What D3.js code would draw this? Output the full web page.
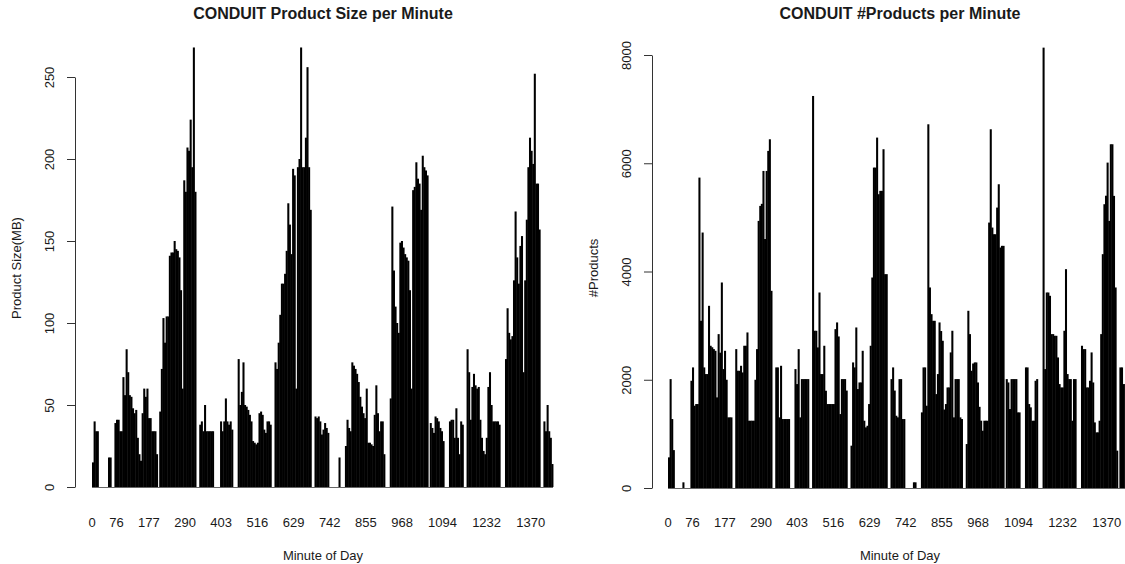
<!DOCTYPE html>
<html>
<head>
<meta charset="utf-8">
<script src="https://cdn.jsdelivr.net/npm/d3@7"></script>
<style>
body { margin: 0; background: #fff; }
svg { display: block; font-family: "Liberation Sans", Arial, sans-serif; }
</style>
</head>
<body>
<svg width="1125" height="564"></svg>
<script>
// values in 5-minute groups, one line per hour of the day
var sizeMB = [
  15, 40, 34, 34, 0, 0, 0, 0, 0, 0, 18, 18,
  0, 0, 39, 41, 41, 34, 34, 67, 56, 84, 70, 56,
  55, 48, 45, 47, 30, 20, 16, 45, 60, 55, 60, 42,
  42, 34, 34, 34, 20, 0, 46, 72, 103, 88, 104, 104,
  141, 143, 143, 150, 145, 144, 140, 120, 60, 187, 180, 207,
  205, 224, 195, 268, 180, 0, 0, 38, 40, 34, 50, 34,
  34, 34, 34, 34, 0, 0, 0, 0, 40, 34, 40, 54,
  40, 38, 40, 35, 0, 0, 0, 78, 50, 58, 76, 50,
  49, 47, 44, 40, 28, 27, 26, 27, 45, 46, 44, 35,
  33, 40, 40, 38, 0, 0, 76, 72, 88, 105, 124, 124,
  130, 144, 173, 160, 142, 194, 190, 60, 195, 200, 268, 195,
  195, 213, 256, 195, 169, 0, 0, 43, 42, 43, 40, 32,
  35, 39, 36, 33, 0, 0, 0, 0, 0, 0, 18, 0,
  0, 0, 25, 41, 36, 34, 76, 74, 72, 69, 64, 55,
  49, 45, 42, 60, 27, 27, 26, 25, 44, 62, 45, 34,
  40, 40, 20, 0, 0, 0, 54, 171, 132, 110, 100, 94,
  149, 150, 146, 142, 140, 138, 120, 60, 181, 183, 198, 188,
  185, 169, 202, 195, 193, 190, 0, 39, 36, 33, 43, 42,
  40, 36, 34, 28, 0, 0, 0, 40, 41, 41, 30, 48,
  30, 20, 40, 38, 0, 0, 84, 70, 41, 61, 69, 62,
  60, 61, 41, 30, 22, 20, 30, 61, 70, 50, 40, 40,
  40, 40, 38, 0, 0, 0, 78, 109, 94, 90, 92, 126,
  168, 140, 124, 147, 153, 70, 126, 163, 195, 213, 205, 197,
  252, 185, 185, 157, 0, 0, 40, 34, 50, 34, 30, 14
];

var numProducts = [
  566, 2012, 1274, 700, 0, 0, 0, 0, 0, 105, 0, 0,
  0, 0, 1981, 2228, 1520, 1551, 1551, 5735, 3089, 4720, 2228, 2105,
  2105, 3366, 2628, 2600, 2566, 2535, 1674, 2843, 2500, 3797, 2197, 2535,
  2000, 1305, 1305, 1305, 0, 0, 2566, 2166, 2166, 2258, 2135, 2628,
  2628, 2874, 1243, 1243, 1243, 1243, 2000, 2566, 4935, 5212, 5250, 5858,
  4600, 5858, 6228, 6443, 3643, 0, 0, 2228, 2228, 1305, 2258, 1274,
  1274, 1274, 1274, 1274, 0, 0, 0, 2197, 1920, 2566, 1305, 2012,
  2012, 2012, 2012, 2012, 0, 0, 7243, 2905, 2905, 2597, 3612, 2105,
  2105, 2628, 1797, 1551, 1551, 1551, 1551, 1551, 2935, 3059, 2800, 1366,
  2012, 2012, 2012, 1800, 0, 0, 782, 2320, 2228, 2966, 1828, 1950,
  1950, 2535, 1243, 1120, 1150, 1551, 2628, 3889, 5920, 5920, 6474, 5428,
  5490, 5490, 6259, 3951, 3951, 0, 0, 2012, 2228, 1800, 1335, 1305,
  2012, 2012, 1274, 1274, 0, 0, 0, 0, 0, 105, 105, 0,
  0, 0, 1397, 2228, 2228, 1520, 6720, 3705, 3212, 3089, 3089, 1735,
  2105, 3059, 2900, 2720, 1450, 1551, 1858, 1858, 2505, 2905, 1305, 2012,
  2012, 2012, 1305, 1274, 0, 0, 812, 3274, 2843, 2166, 2300, 2320,
  2320, 1950, 1500, 1243, 1058, 1243, 1243, 1243, 4904, 6628, 4812, 4689,
  4689, 5181, 5612, 4443, 4474, 4474, 0, 2012, 1950, 1458, 2012, 2012,
  2012, 2012, 1397, 1397, 0, 0, 0, 2228, 2228, 1551, 1490, 1243,
  1243, 1981, 2012, 0, 0, 0, 8136, 2197, 3612, 3612, 3551, 2843,
  2843, 2812, 2812, 2412, 1920, 1858, 1858, 2905, 4043, 2105, 2012, 2012,
  1243, 2012, 2012, 0, 0, 0, 2628, 2566, 2566, 1858, 1858, 1981,
  2505, 1950, 1212, 1028, 1028, 1243, 2843, 4320, 5243, 5400, 6012, 4935,
  6351, 6351, 5397, 3705, 690, 0, 2228, 2228, 1920, 1920, 1300, 700
];

var binMinutes = 5;
var minuteLabels = [0, 76, 177, 290, 403, 516, 629, 742, 855, 968, 1094, 1232, 1370];
var sizeTicks = [0, 50, 100, 150, 200, 250];
var productTicks = [0, 2000, 4000, 6000, 8000];

var svg = d3.select("svg");
var ink = "#1a1a1a";

function drawPanel(p) {
  var g = svg.append("g");
  var bins = d3.range(p.values.length);

  var x = d3.scaleBand().domain(bins).range([p.barLeft, p.barRight]).padding(0);
  var xm = d3.scaleLinear().domain([0, p.values.length * binMinutes]).range([p.barLeft, p.barRight]);
  var y = d3.scaleLinear().domain([0, p.yMax]).range([p.y0, p.yTop]);

  // bars
  g.append("g").selectAll("rect")
    .data(p.values)
    .enter().append("rect")
    .attr("x", function (d, i) { return x(i); })
    .attr("width", x.bandwidth() + 0.45)
    .attr("y", function (d) { return y(d); })
    .attr("height", function (d) { return y(0) - y(d); })
    .attr("fill", "#000");

  // baseline made by the zero-height bars
  g.append("line")
    .attr("x1", p.barLeft).attr("x2", p.barRight)
    .attr("y1", y(0) + 0.5).attr("y2", y(0) + 0.5)
    .attr("stroke", "#666").attr("stroke-width", 1);

  // y axis
  var ax = g.append("g")
    .attr("transform", "translate(" + p.axisX + ",0)")
    .call(d3.axisLeft(y).tickValues(p.ticks).tickSize(8).tickSizeOuter(0).tickFormat(d3.format("d")));
  ax.select(".domain").attr("stroke", "#333");
  ax.selectAll(".tick line").attr("stroke", "#333");
  ax.selectAll(".tick text")
    .attr("transform", "rotate(-90)")
    .attr("x", 0).attr("y", -21).attr("dy", 0)
    .attr("text-anchor", "middle")
    .attr("fill", ink)
    .style("font-size", "13px")
    .style("font-family", "'Liberation Sans', Arial, sans-serif");

  // x labels (no axis line, like barplot names)
  g.append("g").selectAll("text")
    .data(minuteLabels)
    .enter().append("text")
    .attr("x", function (d) { return xm(d + 0.6); })
    .attr("y", 527)
    .attr("text-anchor", "middle")
    .attr("fill", ink)
    .style("font-size", "13px")
    .text(function (d) { return d; });

  var mid = (p.axisX + p.regionRight) / 2;

  g.append("text")
    .attr("x", mid).attr("y", 19)
    .attr("text-anchor", "middle")
    .attr("fill", ink)
    .style("font-size", "16px").style("font-weight", "bold")
    .text(p.title);

  g.append("text")
    .attr("x", mid).attr("y", 560)
    .attr("text-anchor", "middle")
    .attr("fill", ink)
    .style("font-size", "13px")
    .text("Minute of Day");

  g.append("text")
    .attr("transform", "translate(" + (p.axisX - 54) + "," + 268 + ") rotate(-90)")
    .attr("text-anchor", "middle")
    .attr("fill", ink)
    .style("font-size", "13px")
    .text(p.ylab);
}

drawPanel({
  values: sizeMB, yMax: 250, ticks: sizeTicks,
  y0: 487, yTop: 77,
  axisX: 75, barLeft: 92, barRight: 553, regionRight: 571,
  title: "CONDUIT Product Size per Minute", ylab: "Product Size(MB)"
});

drawPanel({
  values: numProducts, yMax: 8000, ticks: productTicks,
  y0: 488, yTop: 55,
  axisX: 652, barLeft: 668, barRight: 1129, regionRight: 1148,
  title: "CONDUIT #Products per Minute", ylab: "#Products"
});
</script>
</body>
</html>
